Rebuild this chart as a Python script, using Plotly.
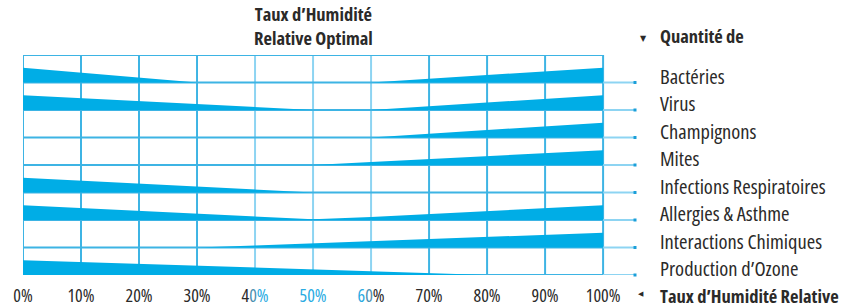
import plotly.graph_objects as go

# ---- data ----
pct = [0, 10, 20, 30, 40, 50, 60, 70, 80, 90, 100]
tick_labels = ["0%", "10%", "20%", "30%", "40%", "50%", "60%", "70%", "80%", "90%", "100%"]

categories = ["Bactéries", "Virus", "Champignons", "Mites",
              "Infections Respiratoires", "Allergies & Asthme",
              "Interactions Chimiques", "Production d’Ozone"]

bacteries = [1.0, 0.67, 0.33, 0.0, 0.0, 0.0, 0.0, 0.25, 0.5, 0.75, 1.0]
virus = [1.0, 0.8, 0.6, 0.4, 0.2, 0.0, 0.0, 0.25, 0.5, 0.75, 1.0]
champignons = [0.0, 0.0, 0.0, 0.0, 0.0, 0.0, 0.0, 0.25, 0.5, 0.75, 1.0]
mites = [0.0, 0.0, 0.0, 0.0, 0.0, 0.0, 0.2, 0.4, 0.6, 0.8, 1.0]
infections = [1.0, 0.8, 0.6, 0.4, 0.2, 0.0, 0.0, 0.0, 0.0, 0.0, 0.0]
allergies = [1.0, 0.8, 0.6, 0.4, 0.2, 0.05, 0.2, 0.4, 0.6, 0.8, 1.0]
interactions = [0.0, 0.0, 0.0, 0.0, 0.14, 0.29, 0.43, 0.57, 0.71, 0.86, 1.0]
ozone = [1.0, 0.875, 0.75, 0.625, 0.5, 0.375, 0.25, 0.125, 0.0, 0.0, 0.0]

series = [bacteries, virus, champignons, mites, infections, allergies, interactions, ozone]

title_lines = ["Taux d’Humidité", "Relative Optimal"]
y_title = "Quantité de"
x_title = "Taux d’Humidité Relative"

# ---- style ----
FONT = "Open Sans"
COND = "font-stretch:condensed"
WEDGE = "#00ADE6"
GRID = "#3DB4E4"
GRID_LIGHT = "#8DD4F2"
TEXT = "#2B2A29"
SCALE = 0.54  # wedge thickness in row units at level 1.0
X_END = 105.5
LABEL_X = 109.6
n = len(categories)


def cond(t, color=None):
    st = COND + (f";color:{color}" if color else "")
    return f"<span style='{st}'>{t}</span>"


def px(xd):
    # data x -> paper fraction (x axis spans [0, X_END])
    return xd / X_END


fig = go.Figure()

# grid shapes
shapes = []
for p in pct:
    light = p in (40, 50, 60)
    shapes.append(dict(type="line", xref="x", yref="y", x0=p, x1=p, y0=0, y1=n,
                       line=dict(color=GRID_LIGHT if light else GRID, width=2), layer="below"))
shapes.append(dict(type="line", xref="x", yref="y", x0=0, x1=100, y0=n, y1=n,
                   line=dict(color=GRID, width=2), layer="below"))
for i in range(n):
    base = n - 1 - i
    shapes.append(dict(type="line", xref="x", yref="y", x0=0, x1=100, y0=base, y1=base,
                       line=dict(color=GRID, width=2), layer="below"))
    shapes.append(dict(type="line", xref="x", yref="y", x0=100, x1=X_END, y0=base, y1=base,
                       line=dict(color=GRID_LIGHT, width=2), layer="below"))

# wedges
for i, (cat, lv) in enumerate(zip(categories, series)):
    base = n - 1 - i
    xs = pct + pct[::-1]
    ys = [base + SCALE * v for v in lv] + [base] * len(pct)
    fig.add_trace(go.Scatter(x=xs, y=ys, fill="toself", fillcolor=WEDGE,
                             mode="lines", line=dict(width=0, color=WEDGE),
                             hoverinfo="skip", showlegend=False, name=cat))

# line-end dots
fig.add_trace(go.Scatter(x=[X_END] * n, y=[n - 1 - i for i in range(n)], mode="markers",
                         marker=dict(symbol="square", size=3, color="#1A9FD9"),
                         cliponaxis=False, hoverinfo="skip", showlegend=False))

# category labels
annotations = []
for i, cat in enumerate(categories):
    base = n - 1 - i
    annotations.append(dict(x=px(LABEL_X), y=base, xref="paper", yref="y", text=cond(cat),
                            showarrow=False, xanchor="left", yanchor="middle", yshift=7,
                            borderpad=0, font=dict(family=FONT, size=20.5, color=TEXT)))

# header texts
annotations.append(dict(x=px(50), y=n, xref="paper", yref="y",
                        text="<br>".join(cond("<b>" + t + "</b>") for t in title_lines),
                        showarrow=False, xanchor="center", yanchor="bottom", yshift=4,
                        borderpad=0, font=dict(family=FONT, size=18.5, color=TEXT)))
annotations.append(dict(x=px(LABEL_X), y=n, xref="paper", yref="y", text=cond("<b>" + y_title + "</b>"),
                        showarrow=False, xanchor="left", yanchor="bottom", yshift=6,
                        borderpad=0, font=dict(family=FONT, size=18.5, color=TEXT)))
annotations.append(dict(x=px(106.9), y=n, xref="paper", yref="y", text="▼",
                        showarrow=False, xanchor="center", yanchor="bottom", yshift=11,
                        borderpad=0, font=dict(family="DejaVu Sans", size=8, color=TEXT)))
annotations.append(dict(x=px(LABEL_X), y=0, xref="paper", yref="y", text=cond("<b>" + x_title + "</b>"),
                        showarrow=False, xanchor="left", yanchor="top", yshift=-7,
                        borderpad=0, font=dict(family=FONT, size=18.5, color=TEXT)))
annotations.append(dict(x=px(106.6), y=0, xref="paper", yref="y", text="◀",
                        showarrow=False, xanchor="center", yanchor="top", yshift=-14,
                        borderpad=0, font=dict(family="DejaVu Sans", size=7, color=TEXT)))

# tick text with colour fade around the optimal zone
BLUE = "#29ABE2"
MID = "#4C8FB0"
colored = []
for lab in tick_labels:
    if lab == "40%":
        colored.append(cond("4", TEXT) + cond("0", MID) + cond("%", BLUE))
    elif lab == "50%":
        colored.append(cond("50%", BLUE))
    elif lab == "60%":
        colored.append(cond("6", BLUE) + cond("0", MID) + cond("%", TEXT))
    else:
        colored.append(cond(lab))

fig.update_layout(
    width=844, height=307,
    margin=dict(l=23, r=844 - 635, t=55, b=32, pad=0, autoexpand=False),
    paper_bgcolor="white", plot_bgcolor="white",
    shapes=shapes, annotations=annotations,
    xaxis=dict(range=[0, X_END], tickvals=pct, ticktext=colored, showgrid=False,
               zeroline=False, showline=False, ticks="outside", ticklen=4,
               tickcolor="rgba(0,0,0,0)", fixedrange=True, automargin=False,
               tickfont=dict(family=FONT, size=18, color=TEXT)),
    yaxis=dict(range=[0, n], showgrid=False, zeroline=False, showline=False,
               showticklabels=False, ticks="", fixedrange=True, automargin=False),
    showlegend=False,
)

fig.write_html("out.html", config={"displayModeBar": False},
               post_script="document.body.style.margin='0';document.body.style.overflow='hidden';")
